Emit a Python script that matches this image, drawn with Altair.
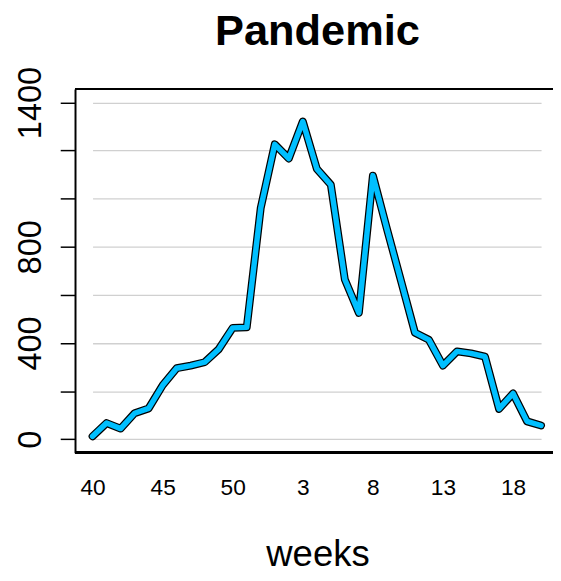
import altair as alt
import pandas as pd

weeks = [str(w) for w in list(range(40, 53)) + list(range(1, 21))]
cases = [12, 67, 44, 108, 128, 224, 295, 306, 320, 374, 463, 465, 962, 1226, 1167, 1321,
         1124, 1058, 664, 525, 1096, 875, 660, 443, 413, 306, 365, 357, 343, 126, 190, 74, 57]
x_tick_labels = ["40", "45", "50", "3", "8", "13", "18"]
y_ticks = [0, 200, 400, 600, 800, 1000, 1200, 1400]
y_labels_shown = [0, 400, 800, 1400]

df = pd.DataFrame({"week": weeks, "cases": cases})

FONT = "Liberation Sans"
W, H = 485, 369

label_expr = "indexof([" + ",".join(str(v) for v in y_labels_shown) + "], datum.value) >= 0 ? format(datum.value, 'd') : ''"

x_enc = alt.X(
    "week:O", sort=weeks,
    scale=alt.Scale(type="point", range=[17.8, 472.9], padding=0),
    axis=alt.Axis(values=x_tick_labels, labelAngle=0, ticks=False, tickSize=0,
                  labelFontSize=23, labelFont=FONT, labelColor="black",
                  labelBaseline="alphabetic", labelPadding=42, labelAlign="center",
                  domain=False, grid=False,
                  title="weeks", titleFontSize=37, titleFont=FONT, titleFontWeight="normal",
                  titleColor="black", titleBaseline="alphabetic", titleAlign="center",
                  titleX=246, titleY=115),
)
y_enc = alt.Y(
    "cases:Q",
    scale=alt.Scale(domain=[-56, 1456], nice=False, zero=False),
    axis=alt.Axis(values=y_ticks, labelExpr=label_expr, labelAngle=270,
                  labelAlign="center", labelBaseline="alphabetic", labelPadding=20,
                  labelFontSize=33, labelFont=FONT, labelColor="black",
                  ticks=True, tickSize=15, tickColor="black", tickWidth=1.5,
                  domain=True, domainColor="black", domainWidth=2,
                  grid=True, gridColor="#d0d0d0", gridWidth=1.3,
                  title=None, labelOverlap=False),
)

base = alt.Chart(df)
outline = base.mark_line(color="black", strokeWidth=8, strokeCap="round", strokeJoin="round").encode(x=x_enc, y=y_enc)
inner = base.mark_line(color="#00BFFF", strokeWidth=5.5, strokeCap="round", strokeJoin="round").encode(x=x_enc, y=y_enc)
top_border = base.mark_rule(color="black", strokeWidth=2).encode(
    x=alt.value(0), x2=alt.value(W), y=alt.value(0))
bottom_border = base.mark_rule(color="black", strokeWidth=2).encode(
    x=alt.value(0), x2=alt.value(W), y=alt.value(H))

chart = alt.layer(outline, inner, top_border, bottom_border).properties(
    width=W, height=H,
    autosize=alt.AutoSizeParams(type="none"),
    padding={"left": 68, "top": 78, "right": 0, "bottom": 124},
    title=alt.TitleParams("Pandemic", fontSize=44, font=FONT, fontWeight="bold",
                          color="black", anchor="middle", dx=3.5, offset=13),
).configure_view(stroke=None).configure(background="white")

chart.save("out.html", embed_options={"renderer": "svg", "actions": False})
